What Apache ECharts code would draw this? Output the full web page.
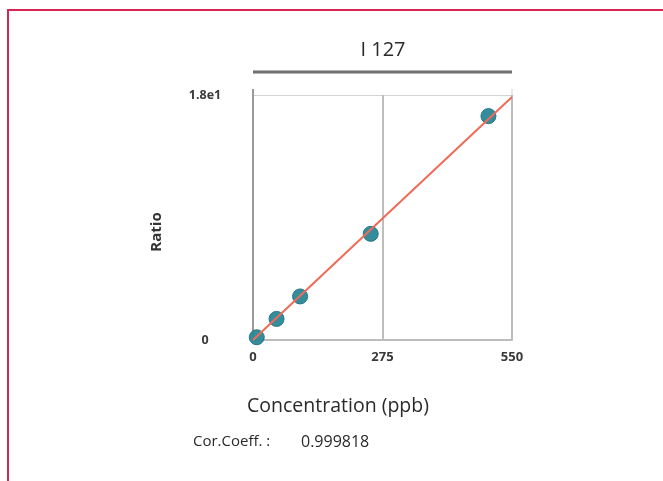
<!DOCTYPE html>
<html>
<head>
<meta charset="utf-8">
<script src="https://cdn.jsdelivr.net/npm/echarts@6/dist/echarts.min.js"></script>
<style>
html,body{margin:0;padding:0;background:#fff;}
#main{width:663px;height:481px;}
</style>
</head>
<body>
<div id="main"></div>
<script>
// Data
const concentration = [8, 50, 100, 250, 500];
const ratio = [0.2, 1.55, 3.2, 7.8, 16.45];
const fitX = [0, 550];
const fitY = [0, 17.85];
const xTicks = [0, 275, 550];
const yTickLabels = {0: '0', 18: '1.8e1'};
const titleText = 'I 127';
const xName = 'Concentration (ppb)';
const yName = 'Ratio';
const corLabel = 'Cor.Coeff. :';
const corValue = '0.999818';

const chart = echarts.init(document.getElementById('main'), null, {renderer: 'canvas'});
const font = '"Open Sans", "Noto Sans", sans-serif';

chart.setOption({
  animation: false,
  backgroundColor: '#fff',
  grid: {left: 253, right: 151, top: 95, bottom: 141, containLabel: false},
  xAxis: {
    type: 'value', min: xTicks[0], max: xTicks[xTicks.length - 1], interval: 275,
    axisLine: {show: true, onZero: false, lineStyle: {color: '#bdbdbd', width: 2}},
    axisTick: {show: false},
    splitLine: {show: true, lineStyle: {color: '#bdbdbd', width: 2}},
    axisLabel: {margin: 11, color: '#3a3a3a', fontSize: 13, fontWeight: 'bold', fontFamily: font}
  },
  yAxis: {
    type: 'value', min: 0, max: 18, interval: 18,
    axisLine: {show: true, onZero: false, lineStyle: {color: '#9a9a9a', width: 2}},
    axisTick: {show: false},
    splitLine: {show: true, lineStyle: {color: '#d4d4d4', width: 1}},
    axisLabel: {
      margin: 48, align: 'center', color: '#3a3a3a', fontSize: 12.5, fontWeight: 'bold', fontFamily: font,
      formatter: v => yTickLabels[v] !== undefined ? yTickLabels[v] : ''
    }
  },
  series: [
    {
      type: 'line', data: fitX.map((x, i) => [x, fitY[i]]), symbol: 'none',
      lineStyle: {color: '#f06a58', width: 2}, z: 3
    },
    {
      type: 'scatter', data: concentration.map((x, i) => [x, ratio[i]]), symbolSize: 15,
      itemStyle: {color: '#2a8797', borderColor: '#1f7282', borderWidth: 1, opacity: 0.95}, z: 2
    }
  ],
  graphic: [
    {type: 'polyline', shape: {points: [[8, 481], [8, 10], [663, 10]]}, style: {stroke: '#d92552', lineWidth: 2, fill: null}},
    {type: 'line', shape: {x1: 253, y1: 72, x2: 512, y2: 72}, style: {stroke: '#6e6e6e', lineWidth: 3}},
    {type: 'line', shape: {x1: 253, y1: 89, x2: 253, y2: 96}, style: {stroke: '#9a9a9a', lineWidth: 2}},
    {type: 'line', shape: {x1: 512, y1: 89, x2: 512, y2: 96}, style: {stroke: '#d4d4d4', lineWidth: 1}},
    {type: 'text', x: 383, y: 50, style: {text: titleText, fill: '#2a2a2a', font: '20px ' + font, textAlign: 'center', textVerticalAlign: 'middle'}},
    {type: 'text', x: 157, y: 232, rotation: Math.PI / 2, style: {text: yName, fill: '#333', font: 'bold 15px ' + font, textAlign: 'center', textVerticalAlign: 'middle'}},
    {type: 'text', x: 338, y: 406, style: {text: xName, fill: '#2a2a2a', font: '19.5px ' + font, textAlign: 'center', textVerticalAlign: 'middle'}},
    {type: 'text', x: 193, y: 442, style: {text: corLabel, fill: '#2a2a2a', font: '15px ' + font, textAlign: 'left', textVerticalAlign: 'middle'}},
    {type: 'text', x: 301, y: 442, style: {text: corValue, fill: '#2a2a2a', font: '16px ' + font, textAlign: 'left', textVerticalAlign: 'middle'}}
  ]
});
</script>
</body>
</html>
